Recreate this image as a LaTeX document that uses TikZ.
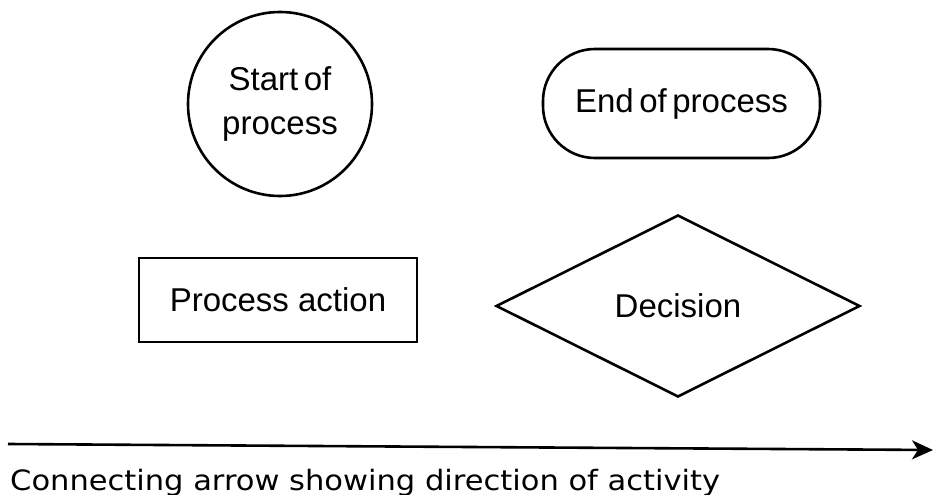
\documentclass[tikz,border=0pt]{standalone}
\usepackage{fontspec}
\setmainfont{Liberation Sans}
\newfontfamily\captionfont[FakeStretch=1.09]{DejaVu Sans}
\usetikzlibrary{shapes.geometric,arrows.meta}
\begin{document}
\begin{tikzpicture}[x=1pt,y=-1pt,
  shapeline/.style={draw=black,line width=2.6pt,inner sep=0pt,font=\fontsize{33}{44}\selectfont},
  labeltext/.style={font=\captionfont\fontsize{28}{34}\selectfont,inner sep=0pt}]
\useasboundingbox (0,0) rectangle (934,495);
\node[shapeline,circle,minimum size=184pt,align=center] (start) at (280,104) {Start\,of\\process};
\node[shapeline,rectangle,rounded corners=52pt,minimum width=277pt,minimum height=109pt] (end) at (681.5,103.5) {End\,of\,process};
\node[shapeline,rectangle,minimum width=278pt,minimum height=84pt] (action) at (278,300) {Process action};
\node[shapeline,diamond,aspect=2,minimum width=364pt,minimum height=182pt] (decision) at (678,306) {Decision};
\coordinate (arrowstart) at (8,444);
\coordinate (arrowend) at (933,450);
\draw[line width=2.6pt,-{Stealth[length=21pt,width=19pt,inset=6pt]}] (arrowstart) -- (arrowend);
\node[labeltext,anchor=base west] (caption) at (10,490) {Connecting arrow showing direction of activity};
\end{tikzpicture}
\end{document}
